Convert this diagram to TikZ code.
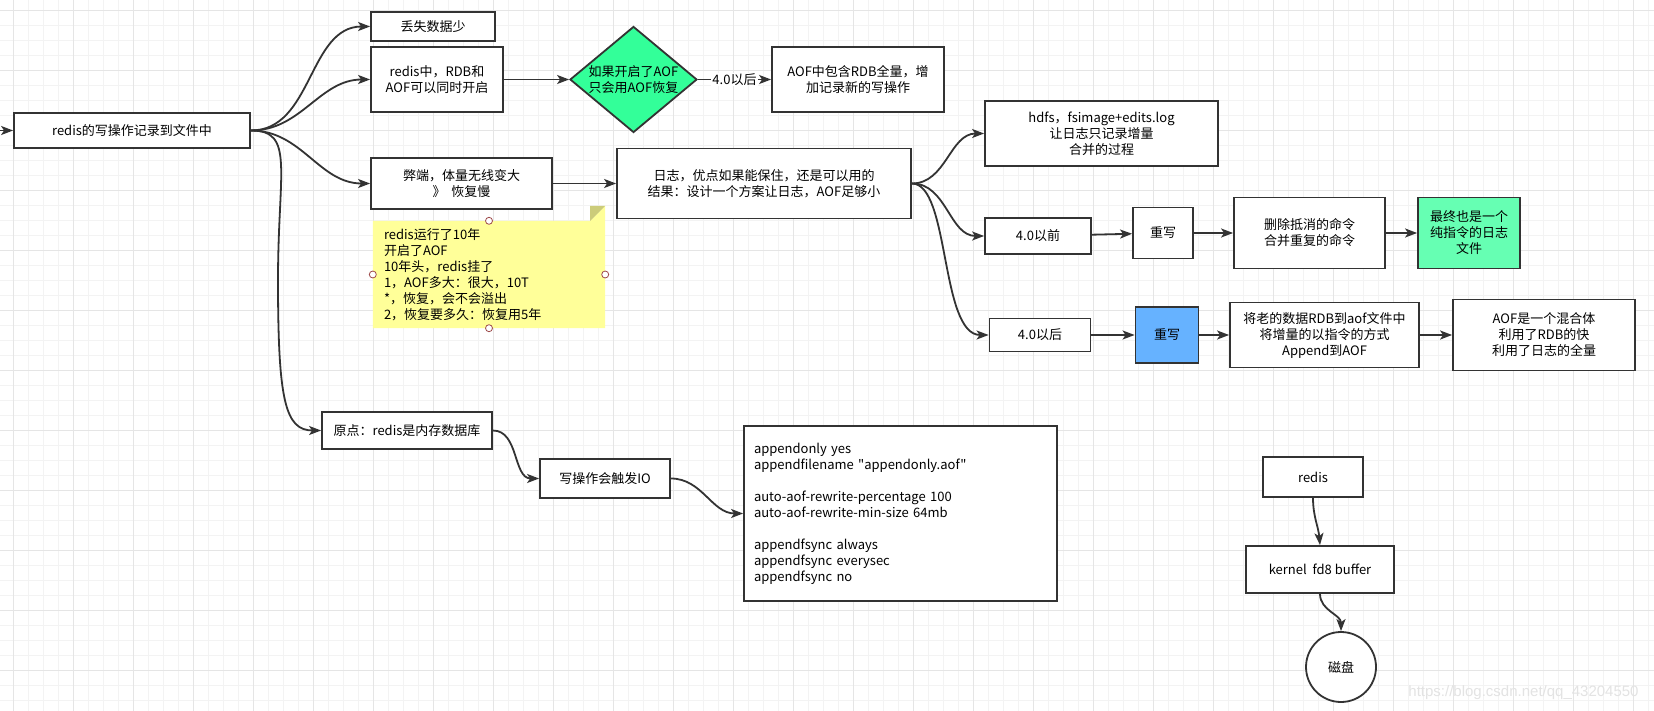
\documentclass[tikz,border=0pt]{standalone}
\usepackage{fontspec}
\setmainfont{Noto Sans CJK SC}[Ligatures=TeXOff]
\newfontfamily\markfont{Liberation Sans}
\usetikzlibrary{shapes.geometric,arrows.meta}
\pgfdeclarelayer{gridlayer}
\pgfdeclarelayer{nodelayer}
\pgfdeclarelayer{edgelayer}
\pgfsetlayers{gridlayer,edgelayer,nodelayer,main}
\definecolor{strokegray}{HTML}{333333}
\definecolor{aofgreen}{HTML}{33FF99}
\definecolor{mintgreen}{HTML}{66FFB3}
\definecolor{rewriteblue}{HTML}{66B2FF}
\definecolor{noteyellow}{HTML}{FFFF99}
\definecolor{notefold}{HTML}{CCCC7A}
\definecolor{handlered}{HTML}{9E4A4A}
\definecolor{gridminor}{HTML}{F3F3F3}
\definecolor{gridmajor}{HTML}{E5E5E5}
\tikzstyle{box}=[fill=white, draw=strokegray, line width=1.8pt, shape=rectangle, inner sep=0pt, align=center, font=\fontsize{13}{16}\selectfont]
\tikzstyle{decision}=[box, shape=diamond, fill=aofgreen, aspect=1.18, inner sep=-3pt]
\tikzstyle{disk}=[box, shape=circle, minimum size=70pt]
\tikzstyle{note text}=[inner sep=0pt, align=left, font=\fontsize{13}{16}\selectfont]
\tikzstyle{edge label}=[fill=white, inner sep=1pt, font=\fontsize{13}{16}\selectfont]
\tikzstyle{watermark}=[text=gray!22, font=\markfont\fontsize{15}{18}\selectfont]
\tikzstyle{directed edge}=[-{Stealth[length=12pt,width=9pt,inset=3pt]}, draw=strokegray, line width=1.8pt]
\tikzstyle{minor line}=[draw=gridminor, line width=0.8pt]
\tikzstyle{major line}=[draw=gridmajor, line width=0.8pt]
\tikzstyle{handle}=[draw=handlered, fill=white, line width=0.8pt]

\begin{document}
\begin{tikzpicture}[x=1pt, y=-1pt]
	\useasboundingbox (0, 0) rectangle (1654, 711);
	\begin{pgfonlayer}{gridlayer}
		\fill [white] (0, 0) rectangle (1654, 711);
		\foreach \x in {13, 28, ..., 1654}
			\draw [style=minor line] (\x, 0) -- (\x, 711);
		\foreach \y in {10, 25, ..., 711}
			\draw [style=minor line] (0, \y) -- (1654, \y);
		\foreach \x in {13, 73, ..., 1654}
			\draw [style=major line] (\x, 0) -- (\x, 711);
		\foreach \y in {10, 70, ..., 711}
			\draw [style=major line] (0, \y) -- (1654, \y);
	\end{pgfonlayer}
	\begin{pgfonlayer}{nodelayer}
		\coordinate (src) at (0, 130.5);
		\node [style=box, minimum width=236pt, minimum height=35pt] (0) at (132, 130.5) {redis的写操作记录到文件中};
		\node [style=box, minimum width=124pt, minimum height=29pt] (1) at (433, 26.5) {丢失数据少};
		\node [style=box, minimum width=132pt, minimum height=65pt] (2) at (437, 79.5) {redis中，RDB和\\AOF可以同时开启};
		\node [style=decision, minimum width=127pt, minimum height=106pt] (3) at (633.5, 79.5) {如果开启了AOF\\只会用AOF恢复};
		\node [style=box, minimum width=172pt, minimum height=65pt] (4) at (858, 79.5) {AOF中包含RDB全量，增\\加记录新的写操作};
		\node [style=box, minimum width=181pt, minimum height=51pt] (5) at (461.5, 183.5) {弊端，体量无线变大\\》\ \ 恢复慢};
		\node [style=box, minimum width=294pt, minimum height=70pt] (6) at (764, 183.5) {日志，优点如果能保住，还是可以用的\\结果：设计一个方案让日志，AOF足够小};
		\node [style=box, minimum width=233pt, minimum height=65pt] (7) at (1101.5, 133.5) {hdfs，fsimage+edits.log\\让日志只记录增量\\合并的过程};
		\node [style=box, minimum width=106pt, minimum height=36pt] (8) at (1038, 236) {4.0以前};
		\node [style=box, minimum width=60pt, minimum height=51pt] (9) at (1163, 233) {重写};
		\node [style=box, minimum width=151pt, minimum height=71pt] (10) at (1309.5, 233) {删除抵消的命令\\合并重复的命令};
		\node [style=box, fill=mintgreen, minimum width=102pt, minimum height=71pt] (11) at (1469, 233) {最终也是一个\\纯指令的日志\\文件};
		\node [style=box, minimum width=101pt, minimum height=33pt] (12) at (1040, 335) {4.0以后};
		\node [style=box, fill=rewriteblue, minimum width=63pt, minimum height=56pt] (13) at (1167, 335) {重写};
		\node [style=box, minimum width=189pt, minimum height=65pt] (14) at (1324.5, 335) {将老的数据RDB到aof文件中\\将增量的以指令的方式\\Append到AOF};
		\node [style=box, minimum width=182pt, minimum height=71pt] (15) at (1544, 335) {AOF是一个混合体\\利用了RDB的快\\利用了日志的全量};
		\node [style=box, minimum width=170pt, minimum height=37pt] (16) at (407, 430.5) {原点：redis是内存数据库};
		\node [style=box, minimum width=130pt, minimum height=39pt] (17) at (605, 478.5) {写操作会触发IO};
		\node [style=box, align=left, text width=293pt, inner xsep=10pt, minimum height=175pt] (18) at (900.5, 513.5) {appendonly yes\\appendfilename "appendonly.aof"\\[16pt]auto-aof-rewrite-percentage 100\\auto-aof-rewrite-min-size 64mb\\[16pt]appendfsync always\\appendfsync everysec\\appendfsync no};
		\node [style=box, minimum width=100pt, minimum height=40pt] (19) at (1313, 477) {redis};
		\node [style=box, minimum width=148pt, minimum height=47pt] (20) at (1320, 569.5) {kernel\ \ fd8 buffer};
		\node [style=disk] (21) at (1341, 667) {磁盘};
		\node [style=note text, text width=210pt, minimum width=232pt, minimum height=107pt, inner xsep=11pt] (22) at (489, 274.5) {redis运行了10年\\开启了AOF\\10年头，redis挂了\\1，AOF多大：很大，10T\\{*}，恢复，会不会溢出\\2，恢复要多久：恢复用5年};
		\node [style=watermark] (23) at (1523.5, 693) {https://blog.csdn.net/qq\_43204550};
	\end{pgfonlayer}
	\begin{pgfonlayer}{edgelayer}
		% sticky note behind its text
		\fill [noteyellow] (22.north west) -- ([xshift=-15pt]22.north east) -- ([yshift=15pt]22.north east) -- (22.south east) -- (22.south west) -- cycle;
		\fill [notefold] ([xshift=-15pt]22.north east) -- ([xshift=-15pt, yshift=15pt]22.north east) -- ([yshift=15pt]22.north east) -- cycle;
		\draw [style=directed edge] (src) to (0);
		\draw [style=directed edge] (0.east) to [out=0, in=180] (1.west);
		\draw [style=directed edge] (0.east) to [out=0, in=180] (2.west);
		\draw [style=directed edge] (0.east) to [out=0, in=180] (5.west);
		\draw [style=directed edge] (0.east) .. controls (295, 130.5) and (278, 170) .. (278, 280) .. controls (278, 400) and (285, 430.5) .. (16.west);
		\draw [style=directed edge] (2) to (3);
		\draw [style=directed edge] (3) to node [style=edge label] {4.0以后} (4);
		\draw [style=directed edge] (5) to (6);
		\draw [style=directed edge] (6.east) to [out=0, in=180] (7.west);
		\draw [style=directed edge] (6.east) to [out=0, in=180] (8.west);
		\draw [style=directed edge] (6.east) .. controls (950, 183.5) and (940, 335) .. (12.west);
		\draw [style=directed edge] (8) to (9);
		\draw [style=directed edge] (9) to (10);
		\draw [style=directed edge] (10) to (11);
		\draw [style=directed edge] (12) to (13);
		\draw [style=directed edge] (13) to (14);
		\draw [style=directed edge] (14) to (15);
		\draw [style=directed edge] (16.east) to [out=0, in=180] (17.west);
		\draw [style=directed edge] (17.east) to [out=0, in=180] (18.west);
		\draw [style=directed edge] (19.south) to [out=-90, in=95] (20.north);
		\draw [style=directed edge] (20.south) to [out=-90, in=90] (21.north);
	\end{pgfonlayer}
	% selection handles of the note
	\foreach \a in {north, west, south, east}
		\draw [style=handle] (22.\a) circle (3.5pt);
\end{tikzpicture}
\end{document}
